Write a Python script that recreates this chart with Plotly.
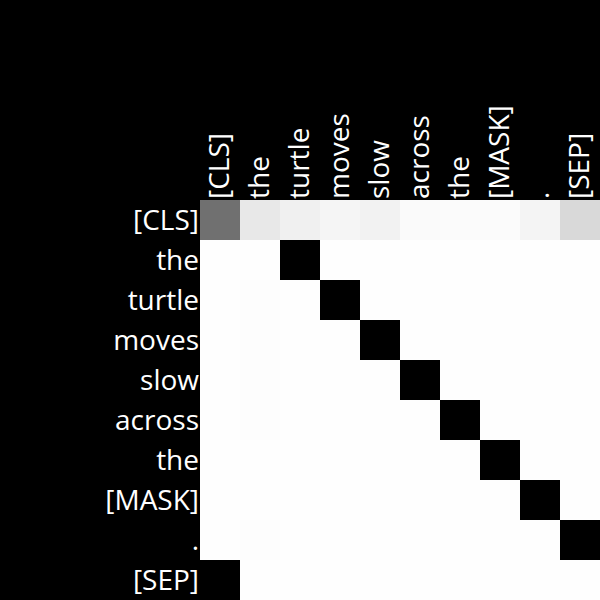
import plotly.graph_objects as go

tokens = ["[CLS]", "the", "turtle", "moves", "slow", "across", "the", "[MASK]", ".", "[SEP]"]

row_cls = [0.56, 0.09, 0.06, 0.04, 0.05, 0.02, 0.015, 0.015, 0.045, 0.15]
row_the1 = [0.004, 0.004, 1.0, 0.005, 0.002, 0.002, 0.002, 0.004, 0.002, 0.002]
row_turtle = [0.004, 0.006, 0.003, 1.0, 0.004, 0.002, 0.002, 0.002, 0.003, 0.003]
row_moves = [0.004, 0.006, 0.004, 0.002, 1.0, 0.003, 0.003, 0.003, 0.003, 0.003]
row_slow = [0.004, 0.006, 0.004, 0.002, 0.003, 1.0, 0.003, 0.003, 0.003, 0.003]
row_across = [0.004, 0.006, 0.003, 0.002, 0.003, 0.002, 1.0, 0.003, 0.003, 0.003]
row_the2 = [0.004, 0.004, 0.005, 0.003, 0.004, 0.003, 0.003, 1.0, 0.003, 0.003]
row_mask = [0.004, 0.004, 0.005, 0.005, 0.002, 0.005, 0.004, 0.003, 1.0, 0.003]
row_dot = [0.004, 0.006, 0.002, 0.005, 0.005, 0.005, 0.005, 0.005, 0.004, 1.0]
row_sep = [1.0, 0.005, 0.005, 0.005, 0.005, 0.005, 0.005, 0.005, 0.005, 0.005]

z = [row_cls, row_the1, row_turtle, row_moves, row_slow, row_across,
     row_the2, row_mask, row_dot, row_sep]

fig = go.Figure(go.Heatmap(
    z=z,
    x=list(range(len(tokens))),
    y=list(range(len(tokens))),
    colorscale=[[0, "#ffffff"], [1, "#000000"]],
    zmin=0, zmax=1,
    showscale=False,
    xgap=0, ygap=0,
))

fig.update_layout(
    width=600, height=600,
    margin=dict(l=200, r=0, t=200, b=0),
    paper_bgcolor="black",
    plot_bgcolor="black",
    font=dict(family="Open Sans", color="white", size=28),
    xaxis=dict(
        side="top", tickangle=-90,
        tickvals=list(range(len(tokens))), ticktext=tokens,
        showgrid=False, zeroline=False, ticks="", showline=False,
        range=[-0.5, 9.5],
    ),
    yaxis=dict(
        tickvals=list(range(len(tokens))), ticktext=tokens,
        autorange="reversed",
        showgrid=False, zeroline=False, ticks="", showline=False,
    ),
)

fig.write_html("out.html")
